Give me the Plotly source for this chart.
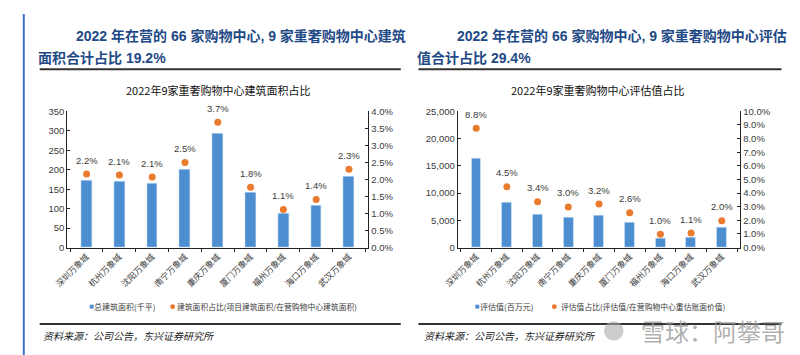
import plotly.graph_objects as go

W, H = 800, 355

malls = ["深圳万象城", "杭州万象城", "沈阳万象城", "南宁万象城", "重庆万象城",
         "厦门万象城", "福州万象城", "海口万象城", "武汉万象城"]
area = [172, 171, 166, 200, 294, 142, 88, 109, 182]            # 千平
area_pct = [2.16, 2.13, 2.07, 2.50, 3.68, 1.77, 1.12, 1.41, 2.30]  # %
value = [16300, 8270, 6150, 5500, 5970, 4670, 1710, 1830, 3660]   # 百万元
value_pct = [8.76, 4.46, 3.36, 2.98, 3.19, 2.56, 0.98, 1.06, 1.96]  # %

left_y_ticks = [0, 50, 100, 150, 200, 250, 300, 350]
left_y2_ticks = [0, 0.5, 1.0, 1.5, 2.0, 2.5, 3.0, 3.5, 4.0]
right_y_ticks = [0, 5000, 10000, 15000, 20000, 25000]
right_y2_ticks = [0, 1, 2, 3, 4, 5, 6, 7, 8, 9, 10]

BLUE = "#4C8ED0"
ORANGE = "#EA7A2E"
NAVY = "#1F4A86"
TXT = "#3a3a3a"
SANS = "Liberation Sans, Noto Sans CJK SC"
CJK = "Noto Sans CJK SC"


def px(x):
    return x / W


def py(y):
    return 1 - y / H


fig = go.Figure()

# Left panel
fig.add_trace(go.Bar(x=malls, y=area, marker_color=BLUE, width=0.33,
                     xaxis="x", yaxis="y", showlegend=False))
fig.add_trace(go.Scatter(x=malls, y=area_pct, mode="markers",
                         marker=dict(color=ORANGE, size=7),
                         xaxis="x", yaxis="y2", showlegend=False))
# Right panel
fig.add_trace(go.Bar(x=malls, y=value, marker_color=BLUE, width=0.32,
                     xaxis="x2", yaxis="y3", showlegend=False))
fig.add_trace(go.Scatter(x=malls, y=value_pct, mode="markers",
                         marker=dict(color=ORANGE, size=7),
                         xaxis="x2", yaxis="y4", showlegend=False))

annotations = []
for m, v in zip(malls, area_pct):
    annotations.append(dict(x=m, y=v, xref="x", yref="y2", text=f"{v:.1f}%",
                            showarrow=False, yshift=14,
                            font=dict(family=SANS, size=9.5, color=TXT)))
for m, v in zip(malls, value_pct):
    annotations.append(dict(x=m, y=v, xref="x2", yref="y4", text=f"{v:.1f}%",
                            showarrow=False, yshift=14,
                            font=dict(family=SANS, size=9.5, color=TXT)))


def paper_text(xc, y, text, size, color, family=CJK, bold=False):
    if bold:
        text = f"<b>{text}</b>"
    annotations.append(dict(x=px(xc), y=py(y), xref="paper", yref="paper",
                            text=text, showarrow=False, xanchor="center",
                            yanchor="middle",
                            font=dict(family=family, size=size, color=color)))


# Headline titles (centred on their extents in the reference)
paper_text(222.5, 23, "2022 年在营的 66 家购物中心, 9 家重奢购物中心建筑", 14, NAVY, family=SANS, bold=True)
paper_text(80, 45, "面积合计占比 19.2%", 14, NAVY, family=SANS, bold=True)
paper_text(610, 23, "2022 年在营的 66 家购物中心, 9 家重奢购物中心评估", 14, NAVY, family=SANS, bold=True)
paper_text(460, 45, "值合计占比 29.4%", 14, NAVY, family=SANS, bold=True)

# Chart titles
paper_text(199, 78, "2022年9家重奢购物中心建筑面积占比", 11, "#111111")
paper_text(586, 78, "2022年9家重奢购物中心评估值占比", 11, "#111111")

# Legends (drawn)
paper_text(103, 302, "总建筑面积(千平)", 8, TXT)
paper_text(249, 302, "建筑面积占比(项目建筑面积/在营购物中心建筑面积)", 7.8, TXT)
paper_text(493, 302, "评估值(百万元)", 8, TXT)
paper_text(632, 302, "评估值占比(评估值/在营购物中心重估账面价值)", 7.8, TXT)

# Sources
paper_text(108, 332, "<i>资料来源：公司公告，东兴证券研究所</i>", 10, "#222222")
paper_text(496, 332, "<i>资料来源：公司公告，东兴证券研究所</i>", 10, "#222222")

# Watermark
paper_text(703, 327, "雪球：阿攀哥", 24, "rgba(150,150,150,0.75)")

shapes = []


def hline(x0, x1, y, width, color="#333333"):
    shapes.append(dict(type="line", xref="paper", yref="paper",
                       x0=px(x0), x1=px(x1), y0=py(y), y1=py(y),
                       line=dict(color=color, width=width)))


hline(17, 385, 57, 2)
hline(403, 773, 57, 2)
hline(17, 385, 320, 2)
hline(403, 773, 320, 2)

# legend symbols
shapes.append(dict(type="rect", xref="paper", yref="paper",
                   x0=px(68), x1=px(72), y0=py(304), y1=py(300),
                   fillcolor=BLUE, line=dict(width=0)))
shapes.append(dict(type="circle", xref="paper", yref="paper",
                   x0=px(150), x1=px(155), y0=py(304.5), y1=py(299.5),
                   fillcolor=ORANGE, line=dict(width=0)))
shapes.append(dict(type="rect", xref="paper", yref="paper",
                   x0=px(461), x1=px(465), y0=py(304), y1=py(300),
                   fillcolor=BLUE, line=dict(width=0)))
shapes.append(dict(type="circle", xref="paper", yref="paper",
                   x0=px(539), x1=px(544), y0=py(304.5), y1=py(299.5),
                   fillcolor=ORANGE, line=dict(width=0)))
# watermark icon
shapes.append(dict(type="circle", xref="paper", yref="paper",
                   x0=px(592), x1=px(612), y0=py(337), y1=py(317),
                   fillcolor="rgba(170,170,170,0.6)", line=dict(width=0)))

# blue frame (left, right, bottom)
FRAME = "#3D6FD6"
shapes.append(dict(type="line", xref="paper", yref="paper", x0=px(0.8), x1=px(0.8),
                   y0=py(0), y1=py(354), line=dict(color=FRAME, width=2)))
shapes.append(dict(type="line", xref="paper", yref="paper", x0=px(795), x1=px(795),
                   y0=py(0), y1=py(354), line=dict(color=FRAME, width=2)))
shapes.append(dict(type="line", xref="paper", yref="paper", x0=px(0), x1=px(796),
                   y0=py(353), y1=py(353), line=dict(color=FRAME, width=2)))

tickfont = dict(family=SANS, size=9.5, color=TXT)
xtickfont = dict(family=CJK, size=8.5, color=TXT)
ydom = [py(241), py(100.5)]

xax = dict(type="category", tickangle=-45, tickfont=xtickfont, showline=True,
           linecolor="#222222", linewidth=1, ticks="outside", ticklen=3,
           tickcolor="#222222", tickson="boundaries", showgrid=False,
           zeroline=False, fixedrange=True)

yax = dict(tickfont=tickfont, showline=True, linecolor="#222222",
           ticks="inside", ticklen=3, tickcolor="#222222",
           showgrid=False, zeroline=False)

fig.update_layout(
    width=W, height=H,
    margin=dict(l=0, r=0, t=0, b=0),
    paper_bgcolor="white", plot_bgcolor="white",
    bargap=0,
    xaxis=dict(xax, domain=[px(45), px(352)], anchor="y"),
    yaxis=dict(yax, domain=ydom, range=[0, 350], tickvals=left_y_ticks,
               ticktext=[str(t) for t in left_y_ticks], anchor="x"),
    yaxis2=dict(yax, overlaying="y", side="right", anchor="x", range=[0, 4],
                tickvals=left_y2_ticks,
                ticktext=[f"{t:.1f}%" for t in left_y2_ticks]),
    xaxis2=dict(xax, domain=[px(443), px(731)], anchor="y3"),
    yaxis3=dict(yax, domain=ydom, range=[0, 25000], tickvals=right_y_ticks,
                ticktext=[f"{t:,}" for t in right_y_ticks], anchor="x2"),
    yaxis4=dict(yax, overlaying="y3", side="right", anchor="x2", range=[0, 10],
                tickvals=right_y2_ticks,
                ticktext=[f"{t:.1f}%" for t in right_y2_ticks]),
    annotations=annotations,
    shapes=shapes,
)

fig.write_html("out.html")
